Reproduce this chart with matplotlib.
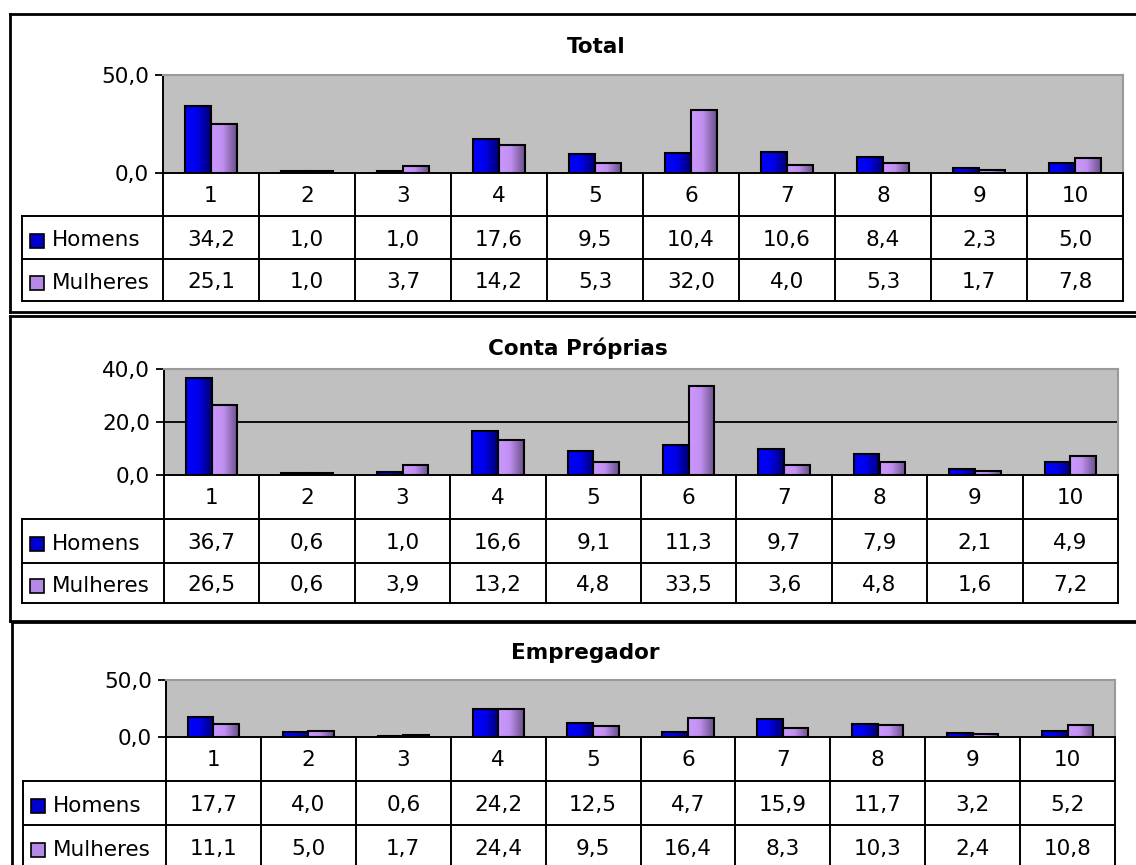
import numpy as np
import matplotlib
matplotlib.use("Agg")
import matplotlib.pyplot as plt
from matplotlib.colors import LinearSegmentedColormap
from matplotlib.patches import Rectangle

W, H = 1136, 865

categories = ["1", "2", "3", "4", "5", "6", "7", "8", "9", "10"]
series_names = ["Homens", "Mulheres"]

total_homens = [34.2, 1.0, 1.0, 17.6, 9.5, 10.4, 10.6, 8.4, 2.3, 5.0]
total_mulheres = [25.1, 1.0, 3.7, 14.2, 5.3, 32.0, 4.0, 5.3, 1.7, 7.8]
conta_homens = [36.7, 0.6, 1.0, 16.6, 9.1, 11.3, 9.7, 7.9, 2.1, 4.9]
conta_mulheres = [26.5, 0.6, 3.9, 13.2, 4.8, 33.5, 3.6, 4.8, 1.6, 7.2]
emp_homens = [17.7, 4.0, 0.6, 24.2, 12.5, 4.7, 15.9, 11.7, 3.2, 5.2]
emp_mulheres = [11.1, 5.0, 1.7, 24.4, 9.5, 16.4, 8.3, 10.3, 2.4, 10.8]

titles = ["Total", "Conta Próprias", "Empregador"]
yticks = [[0, 50], [0, 20, 40], [0, 50]]

# pixel layout of each panel
panels = [
    dict(title_xy=(596, 47), frame=(10, 14, 312), plot=(163, 75, 1123, 173),
         rows=(173, 216, 259, 301), label_x=22),
    dict(title_xy=(578, 348), frame=(10, 316, 621), plot=(164, 369, 1118, 475),
         rows=(475, 519, 563, 603), label_x=22),
    dict(title_xy=(585, 653), frame=(12, 622, 880), plot=(166, 680, 1115, 737),
         rows=(737, 781, 825, 869), label_x=23),
]
data = [(total_homens, total_mulheres), (conta_homens, conta_mulheres),
        (emp_homens, emp_mulheres)]

blue_cmap = LinearSegmentedColormap.from_list(
    "b", [(0, "#0000FF"), (0.45, "#0000EE"), (1, "#000070")])
purple_cmap = LinearSegmentedColormap.from_list(
    "p", [(0, "#CC99FF"), (0.45, "#C090F0"), (1, "#6A5088")])
key_colors = ["#0000CC", "#B48AE6"]
cmaps = [blue_cmap, purple_cmap]
grad = np.linspace(0, 1, 64).reshape(1, -1)

FS = 15.5
LW = 1.4


def fmt(v):
    return f"{v:.1f}".replace(".", ",")


fig = plt.figure(figsize=(W / 100, H / 100), dpi=100)
bg = fig.add_axes([0, 0, 1, 1])
bg.set_xlim(0, W)
bg.set_ylim(H, 0)
bg.axis("off")

for p, (hom, mul), title, yt in zip(panels, data, titles, yticks):
    fx, fy0, fy1 = p["frame"]
    bg.plot([fx, W], [fy0, fy0], color="black", lw=2)
    bg.plot([fx, fx], [fy0, fy1], color="black", lw=2)
    bg.plot([fx, W], [fy1, fy1], color="black", lw=2)
    bg.text(*p["title_xy"], title, ha="center", va="center",
            fontsize=FS, fontweight="bold")

    x0, y0, x1, y1 = p["plot"]
    r0, r1, r2, r3 = p["rows"]
    lx = p["label_x"]
    n = len(categories)
    colw = (x1 - x0) / n

    # table grid
    for y in (r1, r2, r3):
        bg.plot([lx, x1], [y, y], color="black", lw=LW)
    bg.plot([x0, x0], [y1, r3], color="black", lw=LW)
    bg.plot([lx, lx], [r1, r3], color="black", lw=LW)
    for i in range(1, n + 1):
        xx = x0 + i * colw
        bg.plot([xx, xx], [r0, r3], color="black", lw=LW)

    for i, c in enumerate(categories):
        cx = x0 + (i + 0.5) * colw
        bg.text(cx, (r0 + r1) / 2 + 1, c, ha="center", va="center", fontsize=FS)
        bg.text(cx, (r1 + r2) / 2 + 2, fmt(hom[i]), ha="center", va="center",
                fontsize=FS)
        bg.text(cx, (r2 + r3) / 2 + 2, fmt(mul[i]), ha="center", va="center",
                fontsize=FS)

    for (ra, rb), name, kc in zip([(r1, r2), (r2, r3)], series_names, key_colors):
        cy = (ra + rb) / 2 + 3
        bg.add_patch(Rectangle((lx + 8, cy - 7), 14, 14, facecolor=kc,
                               edgecolor="black", lw=1.2))
        bg.text(lx + 30, cy, name, ha="left", va="center", fontsize=FS)

    # bar chart
    ax = fig.add_axes([x0 / W, 1 - y1 / H, (x1 - x0) / W, (y1 - y0) / H])
    ax.set_facecolor("#C0C0C0")
    x = np.arange(n)
    bw = 0.27
    for vals, off, cm in ((hom, -bw / 2, blue_cmap), (mul, bw / 2, purple_cmap)):
        bars = ax.bar(x + off, vals, bw, facecolor="none", edgecolor="black",
                      lw=1.5, zorder=3)
        for b in bars:
            bx, bwid, bh = b.get_x(), b.get_width(), b.get_height()
            ax.imshow(grad, extent=[bx, bx + bwid, 0, bh], aspect="auto",
                      cmap=cm, zorder=2)
    ax.set_xlim(-0.5, n - 0.5)
    ax.set_ylim(0, yt[-1])
    ax.set_yticks(yt)
    ax.set_yticklabels([fmt(v) for v in yt], fontsize=FS)
    for v in yt[1:-1]:
        ax.axhline(v, color="black", lw=1.3, zorder=1)
    ax.set_xticks([])
    ax.tick_params(axis="y", direction="out", length=6, width=1.3, pad=4)
    ax.spines["left"].set_linewidth(1.4)
    ax.spines["bottom"].set_linewidth(1.4)
    ax.spines["top"].set_color("#9A9A9A")
    ax.spines["right"].set_color("#9A9A9A")
    ax.spines["top"].set_linewidth(1.5)
    ax.spines["right"].set_linewidth(1.5)

fig.savefig("out.png", dpi=100)
